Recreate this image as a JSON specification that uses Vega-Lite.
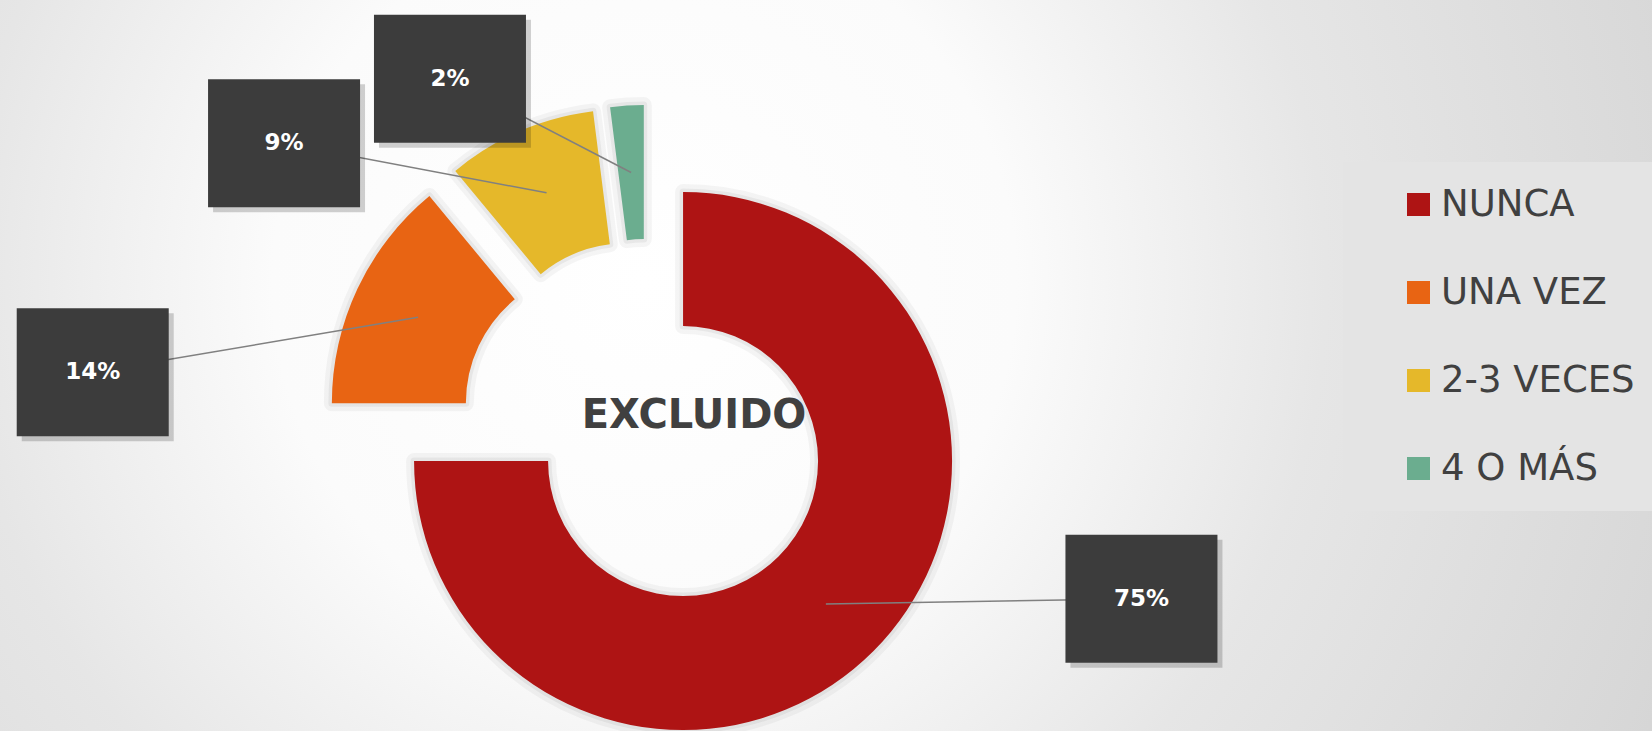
{
  "$schema": "https://vega.github.io/schema/vega-lite/v6.json",
  "width": 1652,
  "height": 731,
  "autosize": "none",
  "padding": 0,
  "background": "#DADADA",
  "params": [
    {"name": "cx", "value": 647},
    {"name": "cy", "value": 425},
    {"name": "ex", "value": 51},
    {"name": "rm", "value": 202},
    {"name": "lrx", "value": 560},
    {"name": "lry", "value": 370},
    {"name": "rot", "value": 0.2967},
    {"name": "bw", "value": 76},
    {"name": "bh", "value": 64}
  ],
  "data": {
    "values": [
      {"categoria": "NUNCA", "porcentaje": 0.75},
      {"categoria": "UNA VEZ", "porcentaje": 0.14},
      {"categoria": "2-3 VECES", "porcentaje": 0.09},
      {"categoria": "4 O MÁS", "porcentaje": 0.02}
    ]
  },
  "layer": [
    {
      "data": {"values": [{}]},
      "mark": {
        "type": "rect",
        "x": 0, "x2": {"expr": "width"}, "y": 0, "y2": {"expr": "height"},
        "color": {
          "gradient": "radial",
          "x1": 0.39, "y1": 0.45, "r1": 0,
          "x2": 0.39, "y2": 0.45, "r2": 0.75,
          "stops": [
            {"offset": 0, "color": "#FFFFFF"},
            {"offset": 0.3, "color": "#FBFBFB"},
            {"offset": 0.55, "color": "#E6E6E6"},
            {"offset": 0.85, "color": "#D8D8D8"},
            {"offset": 1, "color": "#D0D0D0"}
          ]
        }
      },
      "encoding": {}
    },
    {
      "transform": [{"stack": "porcentaje", "groupby": [], "as": ["v0", "v1"]}],
      "mark": {
        "type": "arc", "innerRadius": 135, "outerRadius": 269,
        "fill": "transparent", "stroke": "#000000", "strokeOpacity": 0.04, "strokeWidth": 16, "strokeJoin": "round",
        "x": {"expr": "cx + ex*sin(PI*(datum.v0+datum.v1))"},
        "y": {"expr": "cy - ex*cos(PI*(datum.v0+datum.v1))"}
      },
      "encoding": {
        "theta": {"field": "v0", "type": "quantitative", "scale": {"domain": [0, 1]}},
        "theta2": {"field": "v1"}
      }
    },
    {
      "transform": [{"stack": "porcentaje", "groupby": [], "as": ["v0", "v1"]}],
      "mark": {
        "type": "arc", "innerRadius": 135, "outerRadius": 269,
        "fill": "transparent", "stroke": "#000000", "strokeOpacity": 0.05, "strokeWidth": 7, "strokeJoin": "round",
        "x": {"expr": "cx + ex*sin(PI*(datum.v0+datum.v1))"},
        "y": {"expr": "cy - ex*cos(PI*(datum.v0+datum.v1))"}
      },
      "encoding": {
        "theta": {"field": "v0", "type": "quantitative", "scale": {"domain": [0, 1]}},
        "theta2": {"field": "v1"}
      }
    },
    {
      "transform": [{"stack": "porcentaje", "groupby": [], "as": ["v0", "v1"]}],
      "mark": {
        "type": "arc", "innerRadius": 135, "outerRadius": 269,
        "x": {"expr": "cx + ex*sin(PI*(datum.v0+datum.v1))"},
        "y": {"expr": "cy - ex*cos(PI*(datum.v0+datum.v1))"}
      },
      "encoding": {
        "theta": {"field": "v0", "type": "quantitative", "scale": {"domain": [0, 1]}},
        "theta2": {"field": "v1"},
        "color": {
          "field": "categoria", "type": "nominal",
          "scale": {
            "domain": ["NUNCA", "UNA VEZ", "2-3 VECES", "4 O MÁS"],
            "range": ["#AE1414", "#E86413", "#E5B82A", "#6BAD8F"]
          },
          "legend": {
            "orient": "none", "legendX": 1343, "legendY": 162,
            "title": null,
            "symbolType": "square", "symbolSize": 529, "symbolStrokeWidth": 0,
            "labelFont": "DejaVu Sans", "labelFontSize": 37, "labelColor": "#404040",
            "labelOffset": 4, "labelLimit": 500,
            "rowPadding": 50, "padding": 24, "symbolOffset": 33,
            "fillColor": "#E4E4E4"
          }
        }
      }
    },
    {
      "transform": [{"stack": "porcentaje", "groupby": [], "as": ["v0", "v1"]}],
      "mark": {"type": "rule", "color": "#808080", "strokeWidth": 1.5},
      "encoding": {
        "x": {"value": {"expr": "cx + (ex+rm)*sin(PI*(datum.v0+datum.v1))"}},
        "y": {"value": {"expr": "cy - (ex+rm)*cos(PI*(datum.v0+datum.v1))"}},
        "x2": {"value": {"expr": "cx + lrx*sin(PI*(datum.v0+datum.v1)-rot)"}},
        "y2": {"value": {"expr": "cy - lry*cos(PI*(datum.v0+datum.v1)-rot)"}}
      }
    },
    {
      "transform": [{"stack": "porcentaje", "groupby": [], "as": ["v0", "v1"]}],
      "mark": {
        "type": "rect", "color": "#000000", "opacity": 0.18,
        "x": {"expr": "cx + lrx*sin(PI*(datum.v0+datum.v1)-rot) - bw + 5"},
        "x2": {"expr": "cx + lrx*sin(PI*(datum.v0+datum.v1)-rot) + bw + 5"},
        "y": {"expr": "cy - lry*cos(PI*(datum.v0+datum.v1)-rot) - bh + 5"},
        "y2": {"expr": "cy - lry*cos(PI*(datum.v0+datum.v1)-rot) + bh + 5"}
      },
      "encoding": {}
    },
    {
      "transform": [{"stack": "porcentaje", "groupby": [], "as": ["v0", "v1"]}],
      "mark": {
        "type": "rect", "color": "#3C3C3C",
        "x": {"expr": "cx + lrx*sin(PI*(datum.v0+datum.v1)-rot) - bw"},
        "x2": {"expr": "cx + lrx*sin(PI*(datum.v0+datum.v1)-rot) + bw"},
        "y": {"expr": "cy - lry*cos(PI*(datum.v0+datum.v1)-rot) - bh"},
        "y2": {"expr": "cy - lry*cos(PI*(datum.v0+datum.v1)-rot) + bh"}
      },
      "encoding": {}
    },
    {
      "transform": [{"stack": "porcentaje", "groupby": [], "as": ["v0", "v1"]}],
      "mark": {
        "type": "text", "color": "#FFFFFF", "font": "DejaVu Sans", "fontWeight": "bold", "fontSize": 23,
        "align": "center", "baseline": "middle",
        "x": {"expr": "cx + lrx*sin(PI*(datum.v0+datum.v1)-rot)"},
        "y": {"expr": "cy - lry*cos(PI*(datum.v0+datum.v1)-rot)"}
      },
      "encoding": {
        "text": {"field": "porcentaje", "type": "quantitative", "format": ".0%"}
      }
    },
    {
      "data": {"values": [{"titulo": "EXCLUIDO"}]},
      "mark": {
        "type": "text", "color": "#404040", "font": "DejaVu Sans", "fontWeight": "bold", "fontSize": 40,
        "letterSpacing": 1.2, "align": "center", "baseline": "alphabetic",
        "x": {"expr": "cx + 47"},
        "y": {"expr": "cy + 3"}
      },
      "encoding": {
        "text": {"field": "titulo", "type": "nominal"}
      }
    }
  ],
  "config": {
    "view": {"stroke": null}
  }
}
